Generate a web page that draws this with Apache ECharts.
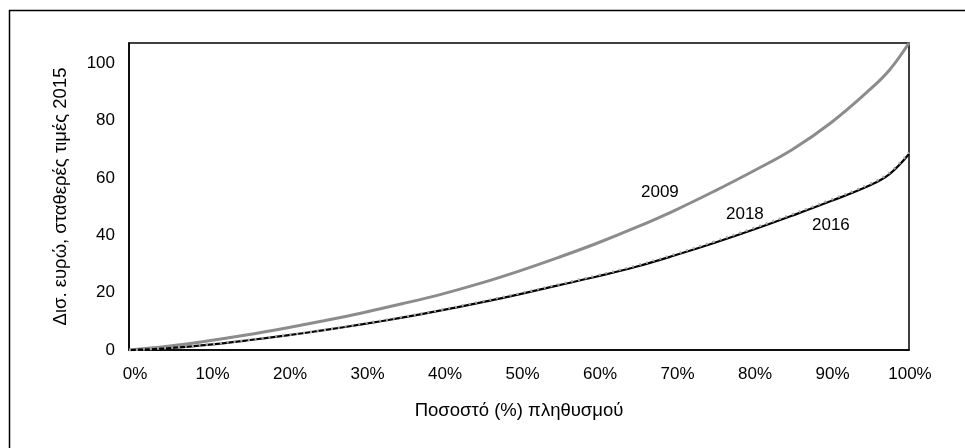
<!DOCTYPE html>
<html>
<head>
<meta charset="utf-8">
<script src="https://cdn.jsdelivr.net/npm/echarts@6/dist/echarts.min.js"></script>
<style>html,body{margin:0;padding:0;background:#fff;}#c{width:965px;height:448px;}</style>
</head>
<body>
<div id="c"></div>
<script>
const populationPct = [0, 5, 10, 15, 20, 25, 30, 35, 40, 45, 50, 55, 60, 65, 70, 75, 80, 85, 90, 95, 97.5, 100];
const values2009 = [0, 1.3, 3.1, 5.2, 7.6, 10.2, 13.0, 16.1, 19.4, 23.2, 27.5, 32.2, 37.2, 42.7, 48.7, 55.3, 62.3, 69.8, 79.2, 90.8, 97.6, 107];
const values2016 = [0, 0.6, 1.8, 3.3, 5.0, 6.9, 9.0, 11.3, 13.8, 16.5, 19.4, 22.5, 25.6, 29.0, 33.0, 37.3, 41.9, 46.8, 51.9, 57.4, 61.3, 68.3];
const values2018 = [0, 0.7, 1.9, 3.4, 5.1, 7.0, 9.2, 11.5, 14.0, 16.8, 19.7, 22.8, 26.0, 29.4, 33.4, 37.8, 42.4, 47.3, 52.4, 57.9, 61.8, 68.8];
const yTicks = [0, 20, 40, 60, 80, 100];
const seriesNames = ['2009', '2016', '2018'];

const pairs = arr => populationPct.map((p, i) => [p, arr[i]]);
const FONT = 'Liberation Sans';

const rich = {};
for (let i = 0; i <= 10; i++) {
  rich['s' + i] = {fontFamily: FONT, fontSize: 17, color: '#000', padding: [0, 0, 0, Math.round(2 * (6 - 0.5 * i))]};
}

const chart = echarts.init(document.getElementById('c'), null, {renderer: 'canvas'});
chart.setOption({
  animation: false,
  backgroundColor: '#fff',
  grid: {left: 129, right: 56, top: 43, bottom: 98, show: true, borderColor: '#000', borderWidth: 1.5, backgroundColor: 'transparent'},
  xAxis: {
    type: 'value', min: 0, max: 100, interval: 10,
    name: 'Ποσοστό (%) πληθυσμού', nameLocation: 'middle', nameGap: 51,
    nameTextStyle: {fontFamily: FONT, fontSize: 18.5, color: '#000'},
    axisLine: {show: true, lineStyle: {color: '#000', width: 1.5}},
    axisTick: {show: false},
    splitLine: {show: false},
    axisLabel: {formatter: v => `{s${Math.round(v / 10)}|${v}%}`, rich: rich, fontFamily: FONT, fontSize: 17, color: '#000', margin: 16}
  },
  yAxis: {
    type: 'value', min: 0, max: 107, interval: 20,
    name: 'Δισ. ευρώ, σταθερές τιμές 2015', nameLocation: 'middle', nameGap: 59, nameRotate: 90,
    nameTextStyle: {fontFamily: FONT, fontSize: 18.5, color: '#000'},
    axisLine: {show: true, lineStyle: {color: '#000', width: 1.5}},
    axisTick: {show: false},
    splitLine: {show: false},
    axisLabel: {fontFamily: FONT, fontSize: 17, color: '#000', margin: 14,
      formatter: v => yTicks.includes(v) ? String(v) : ''}
  },
  series: [
    {name: seriesNames[0], type: 'line', smooth: 0.4, symbol: 'none', data: pairs(values2009),
     lineStyle: {color: '#8c8c8c', width: 3}},
    {name: seriesNames[1], type: 'line', smooth: 0.4, symbol: 'none', data: pairs(values2016),
     lineStyle: {color: '#000', width: 2.2}},
    {name: seriesNames[2], type: 'line', smooth: 0.4, symbol: 'none', data: pairs(values2018),
     lineStyle: {color: '#aaaaaa', width: 2.4, type: [2, 5]}}
  ],
  graphic: [
    {type: 'rect', left: 7, top: 8, shape: {width: 1000, height: 500}, style: {fill: 'none', stroke: '#000', lineWidth: 1.5}, silent: true, z: -1},
    {type: 'text', left: 641, top: 184, style: {text: seriesNames[0], font: '17px "Liberation Sans"', fill: '#000'}},
    {type: 'text', left: 726, top: 206, style: {text: seriesNames[2], font: '17px "Liberation Sans"', fill: '#000'}},
    {type: 'text', left: 812, top: 217, style: {text: seriesNames[1], font: '17px "Liberation Sans"', fill: '#000'}}
  ]
});
</script>
</body>
</html>
